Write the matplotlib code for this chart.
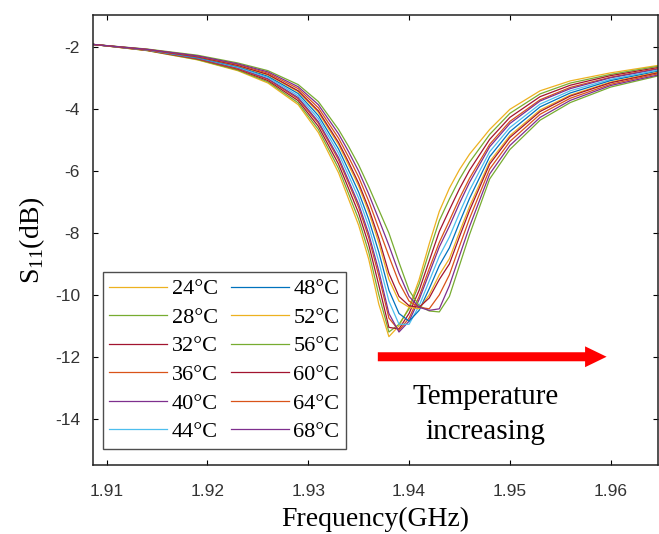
import numpy as np
import matplotlib
matplotlib.use('Agg')
import matplotlib.pyplot as plt

plt.rcParams['axes.unicode_minus'] = False
plt.rcParams['mathtext.fontset'] = 'custom'
plt.rcParams['mathtext.rm'] = 'Liberation Serif'

# frequency grid (GHz) shared by all curves
freq = [1.9086, 1.914, 1.919, 1.923, 1.926, 1.929, 1.931, 1.933, 1.934, 1.935,
        1.936, 1.937, 1.938, 1.939, 1.940, 1.941, 1.942, 1.943, 1.944, 1.945,
        1.946, 1.948, 1.950, 1.953, 1.956, 1.960, 1.9647]

# S11 (dB) per temperature
s24 = [-1.90, -2.10, -2.40, -2.75, -3.15, -3.85, -4.75, -6.05, -6.90, -7.75, -8.85, -10.30,
       -11.35, -11.00, -10.40, -9.50, -8.35, -7.30, -6.55, -5.95, -5.45, -4.65, -4.00, -3.40, -3.08, -2.82, -2.58]
s28 = [-1.90, -2.10, -2.39, -2.73, -3.11, -3.79, -4.65, -5.91, -6.73, -7.56, -8.62, -10.00,
       -11.20, -10.95, -10.45, -9.65, -8.60, -7.60, -6.90, -6.26, -5.71, -4.81, -4.13, -3.50, -3.15, -2.87, -2.61]
s32 = [-1.90, -2.09, -2.37, -2.70, -3.07, -3.72, -4.55, -5.77, -6.56, -7.36, -8.38, -9.69,
       -11.05, -11.10, -10.60, -9.85, -8.90, -7.95, -7.25, -6.57, -5.97, -4.97, -4.26, -3.59, -3.22, -2.91, -2.65]
s36 = [-1.90, -2.09, -2.36, -2.68, -3.03, -3.66, -4.45, -5.63, -6.39, -7.17, -8.15, -9.39,
       -10.75, -11.15, -10.75, -10.05, -9.15, -8.30, -7.60, -6.88, -6.23, -5.13, -4.39, -3.69, -3.29, -2.96, -2.68]
s40 = [-1.90, -2.08, -2.35, -2.66, -3.01, -3.62, -4.40, -5.56, -6.31, -7.07, -8.03, -9.23,
       -10.60, -11.20, -10.85, -10.15, -9.30, -8.45, -7.78, -7.04, -6.36, -5.21, -4.46, -3.73, -3.33, -2.98, -2.70]
s44 = [-1.90, -2.08, -2.33, -2.64, -2.97, -3.56, -4.30, -5.42, -6.14, -6.87, -7.79, -8.93,
       -10.20, -10.95, -10.95, -10.35, -9.55, -8.75, -8.13, -7.35, -6.62, -5.37, -4.59, -3.83, -3.40, -3.03, -2.73]
s48 = [-1.90, -2.07, -2.32, -2.61, -2.93, -3.49, -4.20, -5.28, -5.97, -6.68, -7.56, -8.62,
       -9.85, -10.60, -10.85, -10.50, -9.80, -9.05, -8.48, -7.66, -6.88, -5.53, -4.72, -3.92, -3.47, -3.07, -2.77]
s52 = [-1.90, -2.07, -2.30, -2.59, -2.89, -3.43, -4.10, -5.14, -5.80, -6.48, -7.32, -8.32,
       -9.50, -10.20, -10.40, -10.45, -10.00, -9.35, -8.83, -7.97, -7.14, -5.69, -4.85, -4.02, -3.54, -3.12, -2.80]
s56 = [-1.90, -2.05, -2.25, -2.50, -2.75, -3.20, -3.75, -4.65, -5.20, -5.80, -6.50, -7.25,
       -8.00, -8.95, -9.85, -10.35, -10.52, -10.55, -10.05, -9.05, -8.05, -6.25, -5.30, -4.35, -3.78, -3.28, -2.92]
s60 = [-1.90, -2.07, -2.30, -2.58, -2.87, -3.40, -4.05, -5.07, -5.71, -6.39, -7.21, -8.17,
       -9.30, -10.05, -10.35, -10.40, -10.10, -9.50, -9.00, -8.12, -7.27, -5.77, -4.91, -4.07, -3.57, -3.14, -2.82]
s64 = [-1.90, -2.06, -2.28, -2.55, -2.83, -3.33, -3.95, -4.93, -5.54, -6.19, -6.97, -7.86,
       -8.75, -9.60, -10.20, -10.40, -10.45, -10.00, -9.35, -8.43, -7.53, -5.93, -5.04, -4.16, -3.64, -3.19, -2.85]
s68 = [-1.90, -2.06, -2.27, -2.53, -2.79, -3.27, -3.85, -4.79, -5.37, -6.00, -6.74, -7.56,
       -8.40, -9.30, -10.05, -10.40, -10.50, -10.45, -9.70, -8.74, -7.79, -6.09, -5.17, -4.26, -3.71, -3.23, -2.89]

temps = ['24°C', '28°C', '32°C', '36°C', '40°C', '44°C',
         '48°C', '52°C', '56°C', '60°C', '64°C', '68°C']
curves = [s24, s28, s32, s36, s40, s44, s48, s52, s56, s60, s64, s68]
colores = ['#EDB120', '#77AC30', '#A2142F', '#D95319', '#7E2F8E', '#4DBEEE',
           '#0072BD', '#EDB120', '#77AC30', '#A2142F', '#D95319', '#7E2F8E']

xticks = [1.91, 1.92, 1.93, 1.94, 1.95, 1.96]
yticks = [-14, -12, -10, -8, -6, -4, -2]

fig = plt.figure(figsize=(6.59, 5.34), dpi=100)
ax = fig.add_axes([0.1405, 0.1292, 0.858, 0.8427])

for t, s, c in zip(temps, curves, colores):
    ax.plot(freq, s, color=c, lw=0.9, label=t)

ax.set_xlim(1.9086, 1.9647)
ax.set_ylim(-15.5, -0.95)
ax.set_xticks(xticks)
ax.set_xticklabels(['%.2f' % v for v in xticks])
ax.set_yticks(yticks)
ax.tick_params(direction='in', top=True, right=True, length=3.5, width=0.8,
               labelsize=12.5, labelcolor='#333333')
ax.tick_params(axis='x', pad=14)
ax.tick_params(axis='y', pad=9)
for lab in ax.get_xticklabels() + ax.get_yticklabels():
    lab.set_family('Liberation Sans')
for sp in ax.spines.values():
    sp.set_linewidth(1.1)
    sp.set_color('#222222')

ax.set_xlabel('Frequency(GHz)', family='Liberation Serif', fontsize=20, labelpad=5)
ax.set_ylabel(r'S$_{\mathrm{11}}$(dB)', family='Liberation Serif', fontsize=20, labelpad=6)

# red arrow + annotation
ax.annotate('', xy=(1.9596, -12.0), xytext=(1.9369, -12.0),
            arrowprops=dict(arrowstyle='simple,head_length=15.5,head_width=15,tail_width=6.5',
                            mutation_scale=1, color='red', shrinkA=0, shrinkB=0, lw=0))
ax.text(1.9476, -13.88, 'Temperature\nincreasing', ha='center', va='center',
        family='Liberation Serif', fontsize=21, linespacing=1.45)

leg = ax.legend(ncol=2, loc='lower left', bbox_to_anchor=(0.018, 0.036), borderaxespad=0,
                prop={'family': 'Liberation Serif', 'size': 16}, frameon=True, fancybox=False,
                edgecolor='#222222', handlelength=2.6, handletextpad=0.2, columnspacing=0.6,
                labelspacing=0.36, borderpad=0.3)
leg.get_frame().set_linewidth(1.0)

fig.savefig('out.png', dpi=100)
